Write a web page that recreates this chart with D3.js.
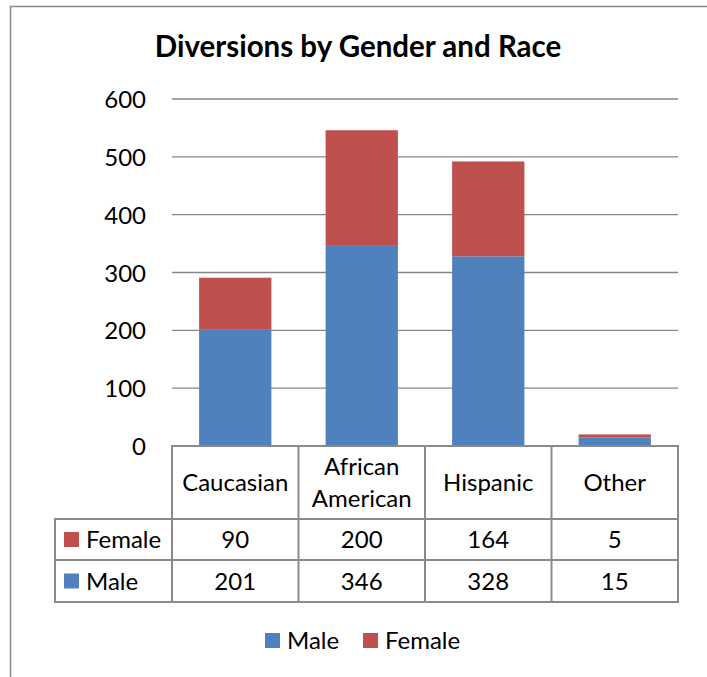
<!DOCTYPE html>
<html><head><meta charset="utf-8">
<script src="https://cdn.jsdelivr.net/npm/d3@7"></script>
<style>
body{margin:0;background:#fff;}
svg text{font-family:Lato,"Open Sans",sans-serif;fill:#000;}
</style></head>
<body>
<svg id="c" width="707" height="677"></svg>
<script>
const categories = ["Caucasian", "African American", "Hispanic", "Other"];
const categoryLines = [["Caucasian"], ["African", "American"], ["Hispanic"], ["Other"]];
const maleValues = [201, 346, 328, 15];
const femaleValues = [90, 200, 164, 5];
const seriesNames = ["Male", "Female"];
const seriesColors = ["#4F81BD", "#C0504D"];
const yTicks = [0, 100, 200, 300, 400, 500, 600];
const title = "Diversions by Gender and Race";

(function () {
const svg = d3.select("#c");
const pLeft = 172, pRight = 678, pTop = 99, pBottom = 446;
const fs = "24px";

// outer border
svg.append("rect").attr("x", 10.5).attr("y", 6.5).attr("width", 720).attr("height", 700)
  .attr("fill", "none").attr("stroke", "#888").attr("stroke-width", 1.5);

svg.append("text").attr("x", 358).attr("y", 57).attr("text-anchor", "middle")
  .style("font-weight", "bold").style("font-size", "29.5px").text(title);

const x = d3.scaleBand().domain(categories).range([pLeft, pRight]).paddingInner(0.75/1.75).paddingOuter(0.75/3.5);
const xc = d3.scaleBand().domain(categories).range([pLeft, pRight]);
const y = d3.scaleLinear().domain([0, 600]).range([pBottom, pTop]);

// gridlines
const grid = svg.append("g");
grid.selectAll("line").data(yTicks.filter(t => t > 0)).join("line")
  .attr("x1", pLeft).attr("x2", pRight).attr("y1", d => y(d)).attr("y2", d => y(d))
  .attr("stroke", "#868686").attr("stroke-width", 1.3);

// y axis labels
const yAxis = d3.axisLeft(y).tickValues(yTicks).tickSize(0).tickPadding(0);
const ya = svg.append("g").attr("transform", `translate(146,0)`).call(yAxis);
ya.select(".domain").remove();
ya.selectAll("text").style("font-size", fs).style("font-family", "Lato,'Open Sans',sans-serif").attr("fill", "#000").attr("dy", "0.36em");

// stacked bars
const rows = categories.map((c, i) => ({cat: c, Male: maleValues[i], Female: femaleValues[i]}));
const stack = d3.stack().keys(seriesNames)(rows);
svg.append("g").selectAll("g").data(stack).join("g")
  .attr("fill", (d, i) => seriesColors[i])
  .selectAll("rect").data(d => d).join("rect")
  .attr("x", d => x(d.data.cat)).attr("width", x.bandwidth())
  .attr("y", d => y(d[1])).attr("height", d => y(d[0]) - y(d[1]));

// data table
const tbl = svg.append("g");
const stroke = "#8a8a8a", sw = 2;
const hdrBottom = 519, fRow = 560, mRow = 602, labLeft = 55;
[[pLeft, pRight, pBottom], [labLeft, pRight, hdrBottom], [labLeft, pRight, fRow], [labLeft, pRight, mRow]].forEach(l => {
  tbl.append("line").attr("x1", l[0] - 1).attr("x2", l[1] + 1).attr("y1", l[2]).attr("y2", l[2])
    .attr("stroke", stroke).attr("stroke-width", sw);
});
tbl.append("line").attr("x1", labLeft).attr("x2", labLeft).attr("y1", hdrBottom).attr("y2", mRow).attr("stroke", stroke).attr("stroke-width", sw);
categories.concat([null]).forEach((c) => {
  const xx = c ? xc(c) : pRight;
  tbl.append("line").attr("x1", xx).attr("x2", xx).attr("y1", pBottom).attr("y2", mRow).attr("stroke", stroke).attr("stroke-width", sw);
});
categories.forEach((c, i) => {
  const cx = xc(c) + xc.bandwidth() / 2;
  const lines = categoryLines[i];
  const cy = (pBottom + hdrBottom) / 2;
  lines.forEach((t, j) => {
    tbl.append("text").attr("x", cx).attr("y", cy + (j - (lines.length - 1) / 2) * 32)
      .attr("dy", "0.36em").attr("text-anchor", "middle").style("font-size", fs).text(t);
  });
});
const tableRows = [
  {name: "Female", color: seriesColors[1], vals: femaleValues, y0: hdrBottom, y1: fRow},
  {name: "Male", color: seriesColors[0], vals: maleValues, y0: fRow, y1: mRow}
];
tableRows.forEach(r => {
  const cy = (r.y0 + r.y1) / 2;
  tbl.append("rect").attr("x", 64).attr("y", cy - 7.5).attr("width", 15).attr("height", 15).attr("fill", r.color);
  tbl.append("text").attr("x", 86).attr("y", cy).attr("dy", "0.36em").style("font-size", fs).text(r.name);
  r.vals.forEach((v, i) => {
    tbl.append("text").attr("x", xc(categories[i]) + xc.bandwidth() / 2).attr("y", cy)
      .attr("dy", "0.36em").attr("text-anchor", "middle").style("font-size", fs).text(v);
  });
});

// legend
const legend = svg.append("g");
const legX = [265, 363];
seriesNames.forEach((s, i) => {
  legend.append("rect").attr("x", legX[i]).attr("y", 633).attr("width", 15).attr("height", 15).attr("fill", seriesColors[i]);
  legend.append("text").attr("x", legX[i] + 22).attr("y", 640.5).attr("dy", "0.36em").style("font-size", fs).text(s);
});
})();
</script>
</body></html>
